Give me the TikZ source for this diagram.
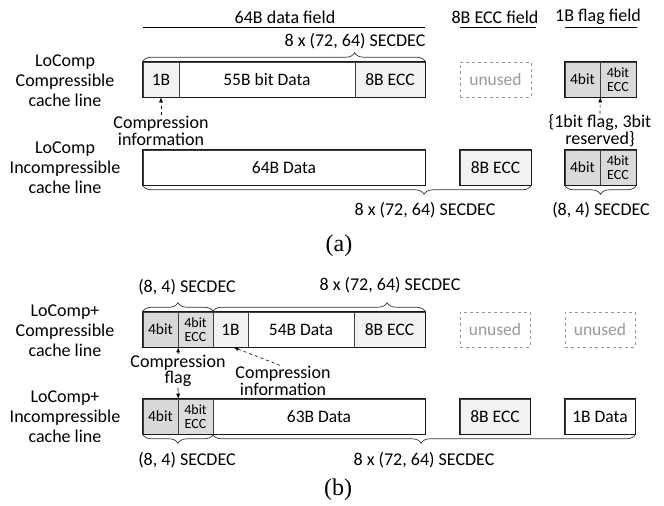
\documentclass[tikz,border=0pt]{standalone}
\usepackage{fontspec}
\setmainfont{Carlito}
\newfontfamily\capfont{Liberation Serif}
\usetikzlibrary{decorations.pathreplacing,arrows.meta}
\definecolor{lightg}{HTML}{F2F2F2}
\definecolor{flagg}{HTML}{DADADA}
\definecolor{bitg}{HTML}{D8D8D8}
\definecolor{eccg}{HTML}{DCDCDC}
\definecolor{unusedg}{HTML}{999999}
\begin{document}
\begin{tikzpicture}[x=1pt,y=-1pt,
  cell/.style={draw=black!75, line width=0.6pt, minimum height=35pt, inner sep=0pt,
    font=\fontsize{17.5}{20}\selectfont},
  smallcell/.style={cell, font=\fontsize{14}{14.5}\selectfont, align=center},
  bitcell/.style={cell, font=\fontsize{15.5}{15}\selectfont},
  unusedbox/.style={draw=unusedg, dashed, line width=0.8pt, minimum height=35pt, inner sep=0pt,
    text=unusedg, font=\fontsize{17.5}{20}\selectfont},
  frame/.style={draw=black!90, line width=1.1pt},
  lbl/.style={font=\fontsize{18}{20}\selectfont, align=center},
  ann/.style={font=\fontsize{18}{14}\selectfont, align=center, inner sep=1pt},
  bracestyle/.style={draw=black!80, line width=0.7pt, decorate},
  hline/.style={draw=black, line width=0.8pt},
  darr/.style={dashed, line width=0.6pt, -{Latex[length=5pt,width=4pt]}},
  sarr/.style={line width=0.6pt, -{Latex[length=5pt,width=4pt]}},
  capt/.style={font=\capfont\fontsize{24}{24}\selectfont}
]
\useasboundingbox (0,0) rectangle (664,506);

% ---------------- (a) ----------------
\node[lbl] (ha) at (285,17) {64B data field};
\node[lbl] (hb) at (495,17) {8B ECC field};
\node[lbl] (hc) at (598,17) {1B flag field};
\draw[hline] (143,27) -- (425,27);
\draw[hline] (460,27) -- (536,27);
\draw[hline] (565,27) -- (637,27);

\node[lbl] (la1) at (65,81) {LoComp\\Compressible\\cache line};
\node[lbl] (la2) at (65,167.5) {LoComp\\Incompressible\\cache line};

% row a1
\node[cell, fill=lightg, minimum width=36pt] (a1b) at (161,79.5) {1B};
\node[cell, minimum width=176pt] (a1d) at (267,79.5) {55B bit Data};
\node[cell, fill=lightg, minimum width=70pt] (a1e) at (390,79.5) {8B ECC};
\draw[frame] (a1b.north west) rectangle (a1e.south east);
\node[unusedbox, minimum width=71pt] (a1u) at (495.5,79.5) {unused};
\node[bitcell, fill=flagg, minimum width=35pt] (a1f) at (582.5,79.5) {4bit};
\node[smallcell, fill=flagg, minimum width=36pt] (a1g) at (618,79.5) {4bit\\ECC};
\draw[frame] (a1f.north west) rectangle (a1g.south east);

% row a2
\node[cell, minimum width=282pt] (a2d) at (284,167.5) {64B Data};
\draw[frame] (a2d.north west) rectangle (a2d.south east);
\node[cell, fill=lightg, minimum width=71pt] (a2e) at (495.5,167.5) {8B ECC};
\draw[frame] (a2e.north west) rectangle (a2e.south east);
\node[bitcell, fill=flagg, minimum width=35pt] (a2f) at (582.5,167.5) {4bit};
\node[smallcell, fill=flagg, minimum width=36pt] (a2g) at (618,167.5) {4bit\\ECC};
\draw[frame] (a2f.north west) rectangle (a2g.south east);

% braces (a)
\draw[bracestyle, decoration={brace, amplitude=9pt, aspect=0.75}]
  (a1b.north west) -- (a1e.north east);
\node[lbl] (ta1) at (355,41) {8 x (72, 64) SECDEC};
\draw[bracestyle, decoration={brace, amplitude=9pt, aspect=0.276}]
  (a2e.south east) -- (a2d.south west);
\node[lbl] (ta2) at (425,210) {8 x (72, 64) SECDEC};
\draw[bracestyle, decoration={brace, amplitude=9pt}]
  (a2g.south east) -- (a2f.south west);
\node[lbl] (ta3) at (601,210) {(8, 4) SECDEC};

% annotations (a)
\node[ann] (cia) at (161,131) {Compression\\information};
\draw[darr] (cia.north) -- (a1b.south);
\node[ann] (fla) at (600,131) {\{1bit flag, 3bit\\reserved\}};
\draw[darr] (fla.north) -- (a1f.south east);

\node[capt] (capa) at (339,246) {(a)};

% ---------------- (b) ----------------
\node[lbl] (lb1) at (65,331) {LoComp+\\Compressible\\cache line};
\node[lbl] (lb2) at (65,416.5) {LoComp+\\Incompressible\\cache line};

% row b1
\node[bitcell, fill=bitg, minimum width=35pt] (b1f) at (160.5,329.5) {4bit};
\node[smallcell, fill=eccg, minimum width=35pt] (b1g) at (195.5,329.5) {4bit\\ECC};
\node[cell, fill=lightg, minimum width=35pt] (b1b) at (230.5,329.5) {1B};
\node[cell, minimum width=106pt] (b1d) at (301,329.5) {54B Data};
\node[cell, fill=lightg, minimum width=71pt] (b1e) at (389.5,329.5) {8B ECC};
\draw[frame] (b1f.north west) rectangle (b1e.south east);
\node[unusedbox, minimum width=70pt] (b1u) at (495,329.5) {unused};
\node[unusedbox, minimum width=70pt] (b1v) at (600,329.5) {unused};

% row b2
\node[bitcell, fill=bitg, minimum width=35pt] (b2f) at (160.5,416.5) {4bit};
\node[smallcell, fill=eccg, minimum width=35pt] (b2g) at (195.5,416.5) {4bit\\ECC};
\node[cell, minimum width=212pt] (b2d) at (319,416.5) {63B Data};
\draw[frame] (b2f.north west) rectangle (b2d.south east);
\node[cell, fill=lightg, minimum width=70pt] (b2e) at (495,416.5) {8B ECC};
\draw[frame] (b2e.north west) rectangle (b2e.south east);
\node[cell, minimum width=70pt] (b2x) at (600,416.5) {1B Data};
\draw[frame] (b2x.north west) rectangle (b2x.south east);

% braces (b)
\draw[bracestyle, decoration={brace, amplitude=9pt}]
  (b1f.north west) -- (b1g.north east);
\node[lbl] (tb1) at (187,287) {(8, 4) SECDEC};
\draw[bracestyle, decoration={brace, amplitude=9pt, aspect=0.82}]
  (b1b.north west) -- (b1e.north east);
\node[lbl] (tb2) at (390,285) {8 x (72, 64) SECDEC};
\draw[bracestyle, decoration={brace, amplitude=9pt}]
  (b2g.south east) -- (b2f.south west);
\node[lbl] (tb3) at (187,460) {(8, 4) SECDEC};
\draw[bracestyle, decoration={brace, amplitude=9pt, aspect=0.507}]
  (b2x.south east) -- (b2d.south west);
\node[lbl] (tb4) at (424,460) {8 x (72, 64) SECDEC};

% annotations (b)
\node[ann] (cfb) at (178,371) {Compression\\flag};
\draw[sarr] (cfb.north) -- (b1f.south east);
\draw[sarr] (cfb.south) -- (b2f.north east);
\node[ann] (cib) at (283,381) {Compression\\information};
\coordinate (cip) at ([xshift=3pt]b1b.south);
\draw[darr] ([xshift=-3pt]cib.north) -- (cip);

\node[capt] (capb) at (338,490) {(b)};
\end{tikzpicture}
\end{document}
